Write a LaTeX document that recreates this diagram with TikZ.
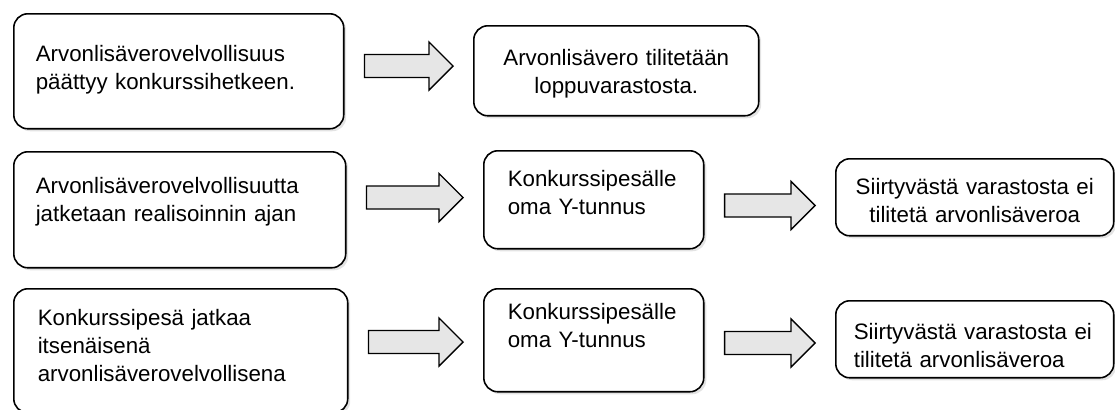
\documentclass[tikz,border=0pt]{standalone}
\usepackage{fontspec}
\setmainfont{Liberation Sans}
\usepackage{tikz}
\usetikzlibrary{calc}
\usetikzlibrary{shadows}
\definecolor{arrowgray}{RGB}{230,230,230}
\tikzstyle{box} = [draw, fill=white, line width=0.9pt, rounded corners=0.28cm, inner ysep=0pt, anchor=north west, drop shadow={shadow xshift=0.05cm, shadow yshift=-0.05cm, opacity=0.22}]
\tikzstyle{blockarrow} = [draw, fill=arrowgray, line width=0.8pt, line join=miter]

% block arrow between two boxes at height #3
\newcommand{\blockarrow}[3]{%
	\coordinate (s) at ($(#1.east |- 0,#3)+(20,0)$);
	\coordinate (t) at ($(#2.west |- 0,#3)+(-20,0)$);
	\draw[blockarrow] ($(s)+(0,-11.5)$) -- ($(t)+(-24,-11.5)$) -- ($(t)+(-24,-24)$) -- (t)
		-- ($(t)+(-24,24)$) -- ($(t)+(-24,11.5)$) -- ($(s)+(0,11.5)$) -- cycle;
}

\begin{document}
\begin{tikzpicture}[x=0.02cm, y=-0.02cm]
	\tikzstyle{every node}=[font=\fontsize{12.7}{15.9}\selectfont]
	\useasboundingbox (0,0) rectangle (1115,409);

	% ------------------- First row ------------------- %
	\node[box, inner xsep=0.44cm, text width=5.72cm, text height=0.96cm, text depth=1.34cm, align=left] (A1) at (13,13)
		{Arvonlisäverovelvollisuus\\päättyy konkurssihetkeen.};
	\node[box, inner xsep=0.44cm, text width=4.82cm, text height=0.8cm, text depth=1.0cm, align=center] (B1) at (473,25)
		{Arvonlisävero tilitetään\\loppuvarastosta.};

	% ------------------- Second row ------------------- %
	\node[box, inner xsep=0.44cm, text width=5.76cm, text height=0.84cm, text depth=1.48cm, align=left] (A2) at (13,151)
		{Arvonlisäverovelvollisuutta\\jatketaan realisoinnin ajan};
	\node[box, inner xsep=0.48cm, text width=3.44cm, text height=0.72cm, text depth=1.24cm, align=left] (B2) at (483,150)
		{Konkurssipesälle\\oma Y-tunnus};
	\node[box, inner xsep=0.36cm, text width=4.84cm, text height=0.72cm, text depth=0.82cm, align=center] (C2) at (835,158)
		{Siirtyvästä varastosta ei\\tilitetä arvonlisäveroa};

	% ------------------- Third row ------------------- %
	\node[box, inner xsep=0.48cm, text width=5.72cm, text height=0.74cm, text depth=1.74cm, align=left] (A3) at (13,288)
		{Konkurssipesä jatkaa\\itsenäisenä\\arvonlisäverovelvollisena};
	\node[box, inner xsep=0.48cm, text width=3.44cm, text height=0.62cm, text depth=1.44cm, align=left] (B3) at (483,288)
		{Konkurssipesälle\\oma Y-tunnus};
	\node[box, inner xsep=0.36cm, text width=4.84cm, text height=0.78cm, text depth=0.76cm, align=left] (C3) at (835,300)
		{Siirtyvästä varastosta ei\\tilitetä arvonlisäveroa};

	% ------------------- Block arrows ------------------- %
	\blockarrow{A1}{B1}{66}
	\blockarrow{A2}{B2}{197.5}
	\blockarrow{B2}{C2}{205.5}
	\blockarrow{A3}{B3}{342}
	\blockarrow{B3}{C3}{343}
\end{tikzpicture}
\end{document}
